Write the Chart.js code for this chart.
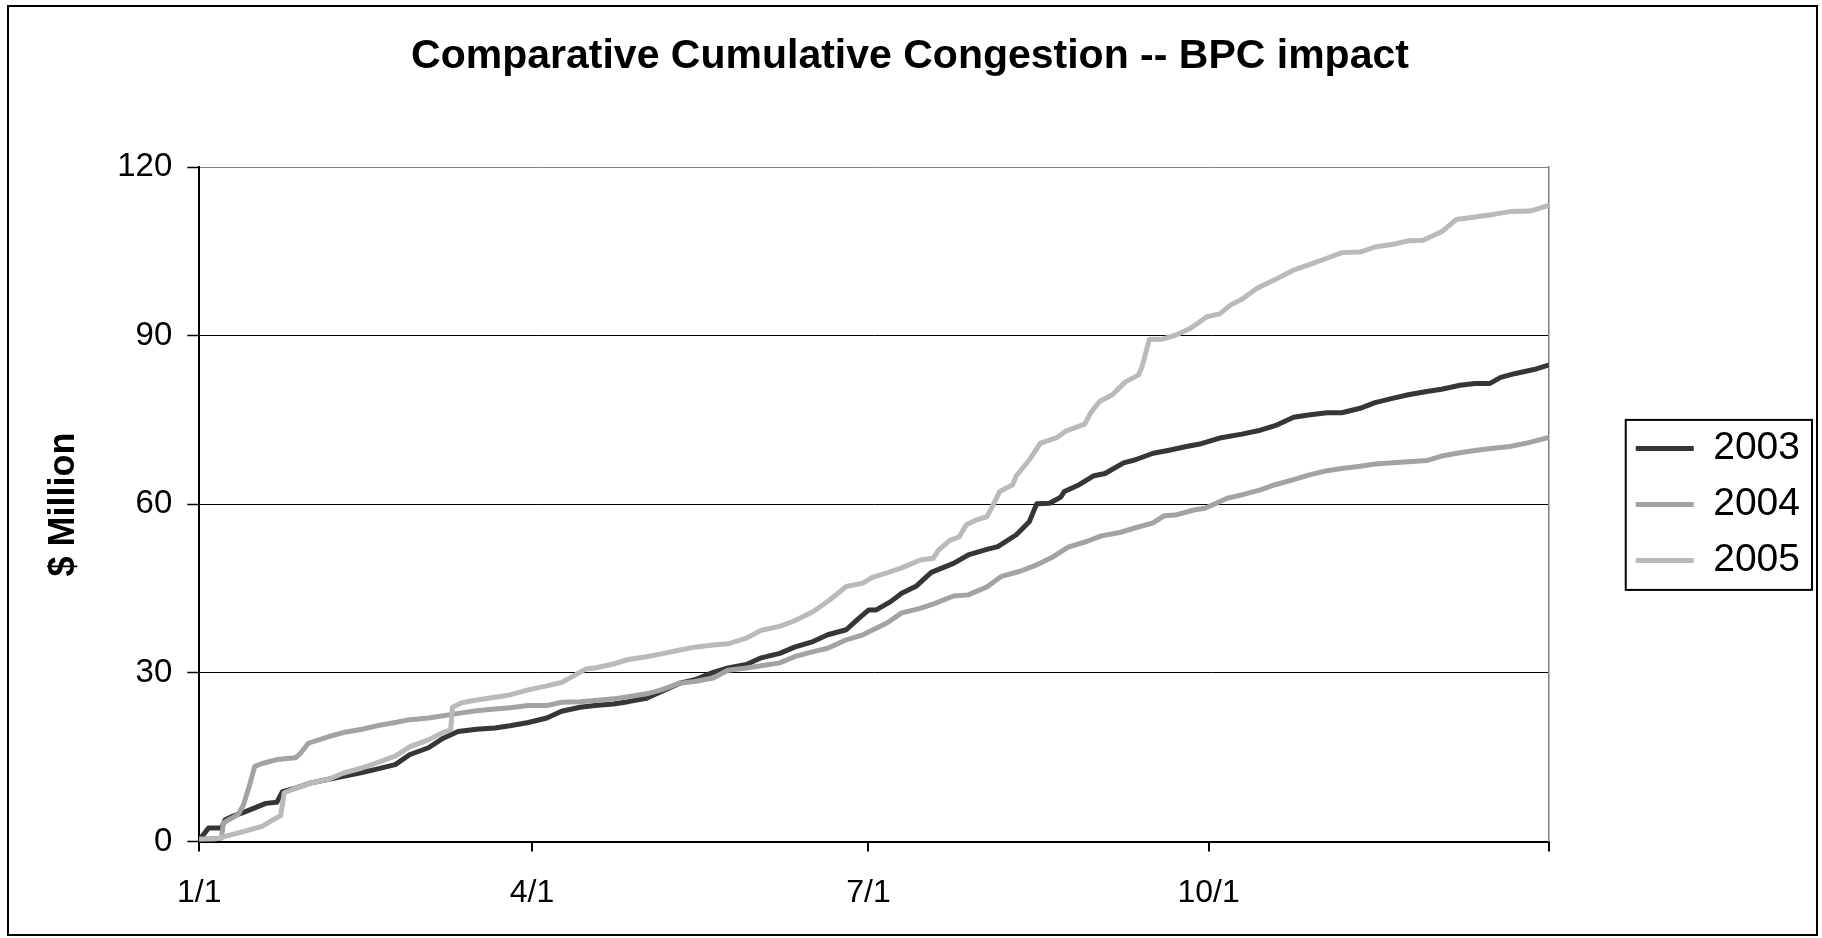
<!DOCTYPE html>
<html>
<head>
<meta charset="utf-8">
<title>Comparative Cumulative Congestion -- BPC impact</title>
<script src="https://cdn.jsdelivr.net/npm/chart.js@4/dist/chart.umd.min.js"></script>
<style>
    html, body { margin: 0; padding: 0; background: #fff; }
    #wrap { width: 1822px; height: 938px; position: relative; }
</style>
</head>
<body>
<div id="wrap"><canvas id="congestionChart"></canvas></div>
<script>
// Day of year (0 = 1/1) and cumulative congestion, $ million
const tickDays = [0, 90, 181, 273, 365];
const tickLabels = ['1/1', '4/1', '7/1', '10/1', ''];

const days2003 = [0, 2.5, 6, 7, 9, 12, 15, 18, 21, 22.5, 26, 30, 35, 39, 44, 48, 53, 57, 62, 66, 70, 75, 80, 84, 89,
    94, 98, 103, 107, 112, 116, 121, 125, 130, 134, 139, 143, 148, 152, 157, 161, 166, 170, 175, 178, 181,
    183, 187, 190, 194, 198, 204, 208, 213, 216, 221, 224.5, 226.5, 230, 233, 234, 238, 242, 245, 250, 253,
    258, 262, 267, 271, 276, 282, 287, 291, 296, 300, 305, 309, 314, 318, 323, 327, 332, 336, 341, 345, 349,
    352, 356, 361, 365];
const values2003 = [0.3, 2.4, 2.4, 3.9, 4.5, 5.2, 6.0, 6.8, 7.0, 8.9, 9.5, 10.4, 11.1, 11.6, 12.3, 12.9, 13.7, 15.5, 16.7, 18.4, 19.6, 20.0, 20.2, 20.6, 21.2,
    22.0, 23.2, 23.9, 24.2, 24.5, 24.9, 25.5, 26.7, 28.2, 28.8, 30.1, 30.9, 31.5, 32.7, 33.5, 34.6, 35.6, 36.8, 37.7, 39.5, 41.2,
    41.2, 42.7, 44.2, 45.5, 47.9, 49.5, 51.0, 52.0, 52.5, 54.6, 56.9, 60.1, 60.2, 61.3, 62.3, 63.5, 65.1, 65.5, 67.4, 67.9,
    69.1, 69.6, 70.3, 70.8, 71.8, 72.5, 73.2, 74.0, 75.5, 75.9, 76.3, 76.3, 77.1, 78.1, 78.9, 79.5, 80.1, 80.5, 81.2, 81.5, 81.5,
    82.6, 83.3, 84.0, 84.8];

const days2004 = [0, 6, 6.5, 8, 10.5, 12, 13.5, 15, 17, 21, 26, 27.5, 29.5, 35, 39, 44, 48, 53, 57, 62, 66, 71, 75, 80, 84, 89,
    94, 98, 103, 107, 112, 116, 121, 125, 130, 134, 139, 143, 148, 152, 157, 161, 166, 170, 175, 179.5,
    182, 186, 190, 195, 199, 204, 208, 213, 217, 222, 226, 231, 235, 240, 244, 249, 253, 258, 261, 264, 269, 272,
    274, 278, 282, 287, 291, 296, 300, 305, 309, 314, 318, 323, 327, 332, 336, 341, 345, 350, 354.5, 359, 365];
const values2004 = [0.4, 0.6, 3.3, 3.9, 4.8, 6.6, 9.8, 13.4, 13.9, 14.6, 14.9, 15.8, 17.5, 18.7, 19.4, 20.0, 20.6, 21.2, 21.7, 22.0, 22.4, 22.9, 23.3, 23.6, 23.8, 24.2,
    24.2, 24.8, 24.9, 25.1, 25.4, 25.8, 26.3, 27.0, 28.2, 28.5, 29.1, 30.5, 30.9, 31.3, 31.8, 32.9, 33.8, 34.4, 35.9, 36.8,
    37.6, 38.9, 40.7, 41.5, 42.4, 43.7, 43.9, 45.3, 47.2, 48.1, 49.1, 50.7, 52.4, 53.4, 54.4, 55.0, 55.8, 56.7, 58.0, 58.1, 59.0, 59.3,
    59.9, 61.1, 61.7, 62.6, 63.5, 64.4, 65.2, 66.0, 66.4, 66.8, 67.2, 67.4, 67.6, 67.8, 68.6, 69.2, 69.6, 70.0, 70.3, 70.9, 71.9];

const days2005 = [0, 4, 8, 12, 17, 20, 22, 23, 26, 30, 35, 39, 44, 48, 53, 57, 62, 65.5, 68, 68.5, 71, 75, 80, 84, 89,
    94, 98, 101, 104.5, 107, 112, 116, 121, 125, 130, 134, 139, 143, 148, 152, 157, 161, 166, 170.5, 175, 179.5,
    182, 186, 190, 195, 198.5, 200, 203, 205.5, 207.5, 210, 213, 214.5, 216.5, 220, 221, 224.5, 227.5, 232, 234.5,
    239.5, 241, 243.5, 247, 250.5, 254, 255, 257, 260.5, 264, 268, 270, 272.5,
    276, 279, 282, 286, 291, 296, 300, 305, 309, 314, 318, 323, 327, 331, 336, 340, 345.5, 350, 354.5, 360, 365];
const values2005 = [0.4, 0.4, 1.1, 1.8, 2.7, 3.9, 4.6, 8.7, 9.5, 10.4, 11.1, 12.2, 13.1, 14.0, 15.2, 16.9, 18.1, 19.3, 19.9, 23.9, 24.7, 25.2, 25.7, 26.1, 27.0,
    27.7, 28.3, 29.4, 30.7, 30.9, 31.6, 32.4, 32.9, 33.4, 34.1, 34.6, 35.0, 35.2, 36.2, 37.6, 38.3, 39.3, 40.9, 43.0, 45.4, 46.0,
    47.0, 47.8, 48.7, 50.1, 50.4, 51.9, 53.6, 54.2, 56.4, 57.2, 57.8, 59.6, 62.3, 63.5, 65.1, 67.9, 70.9, 71.9, 73.1,
    74.3, 76.2, 78.3, 79.5, 81.8, 83.0, 84.5, 89.4, 89.4, 90.1, 91.3, 92.2, 93.4,
    93.9, 95.5, 96.5, 98.4, 100.0, 101.7, 102.6, 103.8, 104.8, 104.9, 105.8, 106.3, 106.9, 107.0, 108.5, 110.7, 111.2, 111.6, 112.1, 112.2, 113.2];

const seriesNames = ['2003', '2004', '2005'];
const seriesColors = ['#363636', '#a3a3a3', '#bababa'];

const FONT = '"Liberation Sans", Arial, Helvetica, sans-serif';

function toPoints(days, values) {
    return days.map((d, i) => ({ x: d, y: values[i] }));
}

// white page + thin frame round the whole chart
const framePlugin = {
    id: 'frame',
    beforeDraw(chart) {
        const ctx = chart.ctx;
        ctx.save();
        ctx.fillStyle = '#fff';
        ctx.fillRect(0, 0, chart.width, chart.height);
        ctx.restore();
    },
    afterDraw(chart) {
        const ctx = chart.ctx;
        ctx.save();
        ctx.strokeStyle = '#000';
        ctx.lineWidth = 2;
        ctx.strokeRect(8, 6, chart.width - 13, chart.height - 9);

        // box round the legend, taken from the legend's own hit boxes
        const boxes = chart.legend && chart.legend.legendHitBoxes;
        if (boxes && boxes.length) {
            const left = Math.min(...boxes.map(b => b.left)) - 10;
            const top = Math.min(...boxes.map(b => b.top)) - 9;
            const right = Math.max(...boxes.map(b => b.left + b.width)) + 12;
            const bottom = Math.max(...boxes.map(b => b.top + b.height)) + 10;
            ctx.lineWidth = 2;
            ctx.strokeRect(left, top, right - left, bottom - top);
        }
        ctx.restore();
    }
};

const datasets = [
    { label: seriesNames[0], data: toPoints(days2003, values2003), order: 3 },
    { label: seriesNames[1], data: toPoints(days2004, values2004), order: 2 },
    { label: seriesNames[2], data: toPoints(days2005, values2005), order: 1 }
].map((ds, i) => Object.assign(ds, {
    borderColor: seriesColors[i],
    backgroundColor: seriesColors[i],
    borderWidth: 5,
    borderCapStyle: 'round',
    borderJoinStyle: 'round',
    pointRadius: 0,
    pointHoverRadius: 0,
    tension: 0,
    fill: false
}));

const ctx = document.getElementById('congestionChart').getContext('2d');
new Chart(ctx, {
    type: 'line',
    data: { datasets },
    plugins: [framePlugin],
    options: {
        responsive: true,
        maintainAspectRatio: false,
        animation: false,
        devicePixelRatio: 1,
        layout: { padding: { left: 10, right: 12, top: 10, bottom: 4 } },
        plugins: {
            tooltip: { enabled: false },
            title: {
                display: true,
                text: 'Comparative Cumulative Congestion -- BPC impact',
                color: '#000',
                font: { family: FONT, size: 41, weight: 'bold' },
                padding: { top: 22, bottom: 86 }
            },
            legend: {
                position: 'right',
                fullSize: false,
                labels: {
                    usePointStyle: true,
                    pointStyle: 'line',
                    pointStyleWidth: 58,
                    padding: 17,
                    color: '#000',
                    font: { family: FONT, size: 39 },
                    sort: (a, b) => a.datasetIndex - b.datasetIndex
                }
            }
        },
        scales: {
            x: {
                type: 'linear',
                position: 'bottom',
                min: 0,
                max: 365,
                afterBuildTicks: scale => {
                    scale.ticks = tickDays.map(v => ({ value: v }));
                },
                grid: {
                    drawOnChartArea: false,
                    drawTicks: true,
                    tickLength: 10,
                    color: '#000',
                    lineWidth: 2
                },
                border: { display: true, color: '#000', width: 2 },
                ticks: {
                    autoSkip: false,
                    maxRotation: 0,
                    padding: 22,
                    color: '#000',
                    font: { family: FONT, size: 32 },
                    callback: (value, index) => tickLabels[index]
                }
            },
            y: {
                position: 'left',
                min: 0,
                max: 120,
                grid: {
                    color: c => (c.tick && c.tick.value === 120) ? '#808080' : '#000',
                    lineWidth: 1,
                    tickLength: 12,
                    tickColor: '#000',
                    tickWidth: 1.5
                },
                border: { display: true, color: '#000', width: 2 },
                ticks: {
                    stepSize: 30,
                    padding: 15,
                    color: '#000',
                    font: { family: FONT, size: 33 }
                },
                title: {
                    display: true,
                    text: '$ Million',
                    color: '#000',
                    font: { family: FONT, size: 36, weight: 'bold' },
                    padding: { top: 32, bottom: 17 }
                }
            },
            // empty right axis: gives the grey right edge of the plot and the gap before the legend
            y2: {
                position: 'right',
                min: 0,
                max: 120,
                grid: { display: true, drawOnChartArea: false, drawTicks: false },
                border: { display: true, color: '#808080', width: 1.5 },
                ticks: { display: false },
                afterFit: scale => { scale.width = 70; }
            }
        }
    }
});
</script>
</body>
</html>
